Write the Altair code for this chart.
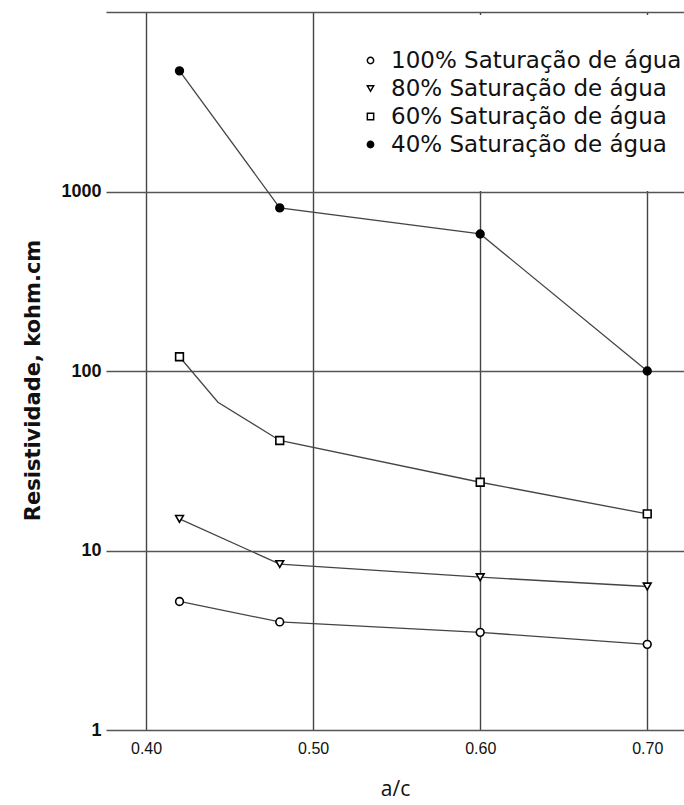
import altair as alt
import pandas as pd

series = ["100% Saturação de água", "80% Saturação de água",
          "60% Saturação de água", "40% Saturação de água"]

ac = [0.42, 0.48, 0.60, 0.70]
r100 = [5.2, 4.0, 3.5, 3.0]
r80 = [15.0, 8.4, 7.1, 6.3]
r60 = [120.0, 41.0, 24.0, 16.0]
r40 = [4700.0, 810.0, 580.0, 100.0]

# bend of the 60% curve between the first two markers (no marker there)
bend_ac = [0.443]
bend_r60 = [67.0]

x_ticks = [0.40, 0.50, 0.60, 0.70]
y_ticks = [1, 10, 100, 1000, 10000]

pts = []
for name, vals in zip(series, [r100, r80, r60, r40]):
    for a, v in zip(ac, vals):
        pts.append({"s": name, "ac": a, "r": v, "o": a})
points = pd.DataFrame(pts)

line_rows = list(pts)
for a, v in zip(bend_ac, bend_r60):
    line_rows.append({"s": series[2], "ac": a, "r": v, "o": a})
lines = pd.DataFrame(line_rows).sort_values(["s", "ac"])

xs = alt.Scale(domain=[0.376, 0.722], nice=False, zero=False)
ys = alt.Scale(type="log", domain=[1, 10000], nice=False)

x_enc = alt.X("ac:Q", scale=xs, axis=alt.Axis(
    values=x_ticks, format=".2f", title="a/c", grid=True,
    gridColor="#444", gridWidth=1.4, domain=False, ticks=False,
    labelFont="Liberation Sans", labelFontSize=16, labelColor="#111",
    labelPadding=10, titleFont="Open Sans", titleFontSize=21,
    titleFontWeight="normal", titleColor="#111", titlePadding=22))
y_enc = alt.Y("r:Q", scale=ys, axis=alt.Axis(
    values=y_ticks, format="d", title="Resistividade, kohm.cm", grid=True,
    gridColor="#555", gridWidth=1.3, domain=False, ticks=False,
    labelExpr="datum.value >= 10000 ? '' : datum.label",
    labelFont="Liberation Sans", labelFontSize=18, labelFontWeight="bold",
    labelColor="#111", labelPadding=5,
    titleFont="DejaVu Sans", titleFontSize=21, titleFontWeight="bold",
    titleColor="#111", titlePadding=17, titleY=368))

line_layer = alt.Chart(lines).mark_line(color="#444", strokeWidth=1.3).encode(
    x=x_enc, y=y_enc, detail="s:N", order="o:Q")

point_layer = alt.Chart(points).mark_point(
    strokeWidth=1.6, opacity=1, size=60).encode(
    x="ac:Q", y="r:Q",
    shape=alt.Shape("s:N", sort=series, scale=alt.Scale(
        domain=series, range=["circle", "triangle-down", "square", "circle"]),
        legend=alt.Legend(title=None, orient="none", legendX=212, legendY=3,
                          fillColor="white", padding=34, symbolOffset=7,
                          labelFont="DejaVu Sans", labelFontSize=23,
                          labelColor="#111", labelOffset=9, rowPadding=4,
                          symbolSize=40, symbolStrokeWidth=1.5,
                          symbolStrokeColor="black", labelLimit=400)),
    fill=alt.Fill("s:N", sort=series, scale=alt.Scale(
        domain=series, range=["white", "white", "white", "black"])),
    stroke=alt.Stroke("s:N", sort=series, scale=alt.Scale(
        domain=series, range=["black", "black", "black", "black"])),
)

chart = alt.layer(line_layer, point_layer).properties(
    width=578, height=718,
    autosize=alt.AutoSizeParams(type="none"),
    padding={"left": 106, "top": 12, "right": 0, "bottom": 75},
    background="white",
).configure_view(stroke=None)

chart.save("out.html", embed_options={"renderer": "svg", "actions": False})
